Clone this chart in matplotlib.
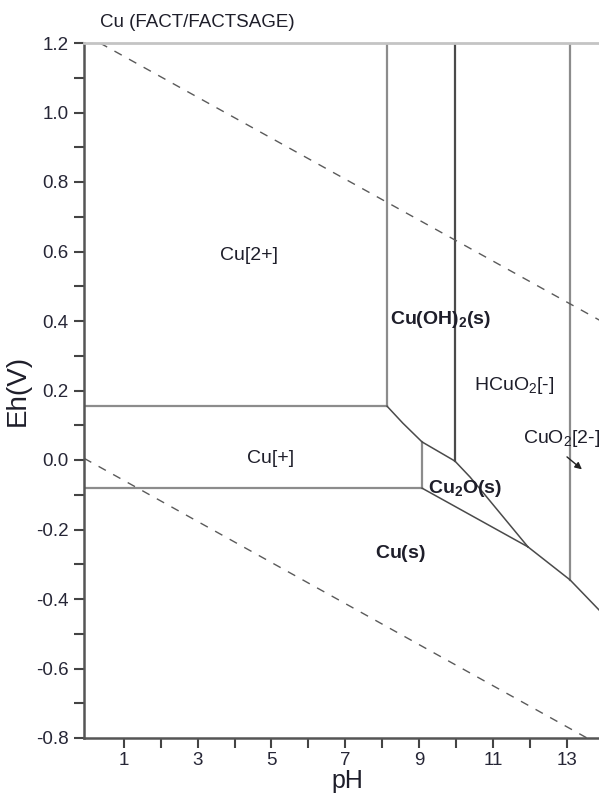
import matplotlib
matplotlib.use('Agg')
import matplotlib.pyplot as plt

plt.rcParams['font.family'] = ['Liberation Sans', 'DejaVu Sans']
plt.rcParams['mathtext.fontset'] = 'custom'
plt.rcParams['mathtext.rm'] = 'Liberation Sans'
plt.rcParams['mathtext.bf'] = 'Liberation Sans:bold'

# Phase boundaries (pH, Eh in V)
cu2_cu1_ph = [-0.08, 8.13]
cu2_cu1_eh = [0.155, 0.155]
cu2_cuoh2_ph = [8.13, 8.13]
cu2_cuoh2_eh = [0.155, 1.2]
cuoh2_hcuo2_ph = [9.97, 9.97]
cuoh2_hcuo2_eh = [-0.003, 1.2]
hcuo2_cuo2_ph = [13.09, 13.09]
hcuo2_cuo2_eh = [-0.345, 1.2]
cu1_cu_ph = [-0.08, 9.08]
cu1_cu_eh = [-0.081, -0.081]
cu1_cu2o_ph = [9.08, 9.08]
cu1_cu2o_eh = [-0.081, 0.052]
cuoh2_low_ph = [8.13, 8.56, 9.08, 9.97]
cuoh2_low_eh = [0.155, 0.106, 0.052, -0.003]
cu2o_hcuo2_ph = [9.97, 10.38, 10.79, 11.95]
cu2o_hcuo2_eh = [-0.003, -0.049, -0.101, -0.250]
cu2o_cu_ph = [9.08, 11.95]
cu2o_cu_eh = [-0.081, -0.250]
hcuo2_cu_ph = [11.95, 13.09, 13.88, 14.2]
hcuo2_cu_eh = [-0.250, -0.345, -0.432, -0.466]

# water stability lines
o2_ph = [0.35, 14.2]
o2_eh = [1.2, 0.384]
h2_ph = [-0.08, 13.55]
h2_eh = [0.005, -0.8]

# species labels: text, pH, Eh, bold
labels = [
    ('Cu[2+]', 3.61, 0.575, False),
    ('$\\mathbf{Cu(OH)_2(s)}$', 8.21, 0.39, True),
    ('HCuO$_2$[-]', 10.49, 0.201, False),
    ('CuO$_2$[2-]', 11.82, 0.049, False),
    ('Cu[+]', 4.34, -0.009, False),
    ('$\\mathbf{Cu_2O(s)}$', 9.24, -0.095, True),
    ('$\\mathbf{Cu(s)}$', 7.80, -0.282, True),
]

xticks = list(range(1, 15))
xticklabels = [str(t) if t % 2 == 1 else '' for t in xticks]
yticks = [round(-0.8 + 0.1 * i, 1) for i in range(21)]
yticklabels = ['%.1f' % t if round(t * 10) % 2 == 0 else '' for t in yticks]

fig = plt.figure(figsize=(5.99, 7.94), dpi=100)
ax = fig.add_axes([84 / 599, 56 / 794, 527 / 599, 695 / 794])

light = '#8c8c8c'
dark = '#4a4a4a'
ax.plot(cu2_cu1_ph, cu2_cu1_eh, color=light, lw=1.6)
ax.plot(cu2_cuoh2_ph, cu2_cuoh2_eh, color=light, lw=1.6)
ax.plot(cuoh2_hcuo2_ph, cuoh2_hcuo2_eh, color=dark, lw=1.6)
ax.plot(hcuo2_cuo2_ph, hcuo2_cuo2_eh, color=light, lw=1.6)
ax.plot(cu1_cu_ph, cu1_cu_eh, color=light, lw=1.6)
ax.plot(cu1_cu2o_ph, cu1_cu2o_eh, color=light, lw=1.6)
ax.plot(cuoh2_low_ph, cuoh2_low_eh, color=dark, lw=1.1)
ax.plot(cu2o_hcuo2_ph, cu2o_hcuo2_eh, color=dark, lw=1.1)
ax.plot(cu2o_cu_ph, cu2o_cu_eh, color=dark, lw=1.1)
ax.plot(hcuo2_cu_ph, hcuo2_cu_eh, color=dark, lw=1.1)

ax.plot(o2_ph, o2_eh, color='#5a5a5a', lw=1.0, ls=(0, (6, 6)))
ax.plot(h2_ph, h2_eh, color='#5a5a5a', lw=1.0, ls=(0, (6, 6)))

for txt, x, y, bold in labels:
    ax.text(x, y, txt, fontsize=14, color='#1e1e2a', ha='left', va='baseline',
            fontweight='bold' if bold else 'normal')

ax.annotate('', xy=(13.47, -0.032), xytext=(12.95, 0.014),
            arrowprops=dict(arrowstyle='-|>', color='#222222', lw=1.0, mutation_scale=10))

ax.set_xlim(-0.08, 14.2)
ax.set_ylim(-0.8, 1.2)
ax.set_xticks(xticks)
ax.set_xticklabels(xticklabels)
ax.set_yticks(yticks)
ax.set_yticklabels(yticklabels)
ax.tick_params(direction='out', length=7, width=1.5, color='#444444',
               labelsize=13.5, labelcolor='#262636', pad=4)
ax.tick_params(axis='x', pad=3)

ax.spines['right'].set_visible(False)
ax.spines['top'].set_color('#c4c4c4')
ax.spines['top'].set_linewidth(2)
ax.spines['left'].set_color('#555555')
ax.spines['left'].set_linewidth(1.8)
ax.spines['bottom'].set_color('#555555')
ax.spines['bottom'].set_linewidth(1.8)

ax.set_xlabel('pH', fontsize=18, color='#1e1e2a', labelpad=0)
ax.set_ylabel('Eh(V)', fontsize=20, color='#1e1e2a', labelpad=4)

fig.text(100 / 599, 1 - 27 / 794, 'Cu (FACT/FACTSAGE)', fontsize=13.5,
         color='#1e1e2a', ha='left', va='baseline')

fig.savefig('out.png', dpi=100)
